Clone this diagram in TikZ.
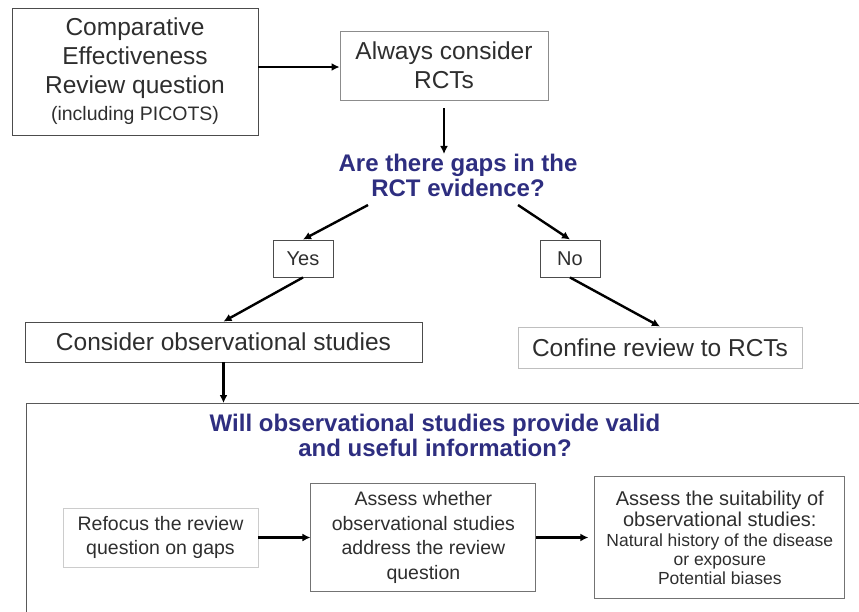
\documentclass[tikz,border=0pt]{standalone}
\usepackage{fontspec}
\setmainfont{Liberation Sans}
\usetikzlibrary{positioning,arrows.meta}
\definecolor{qblue}{RGB}{46,46,128}
\colorlet{ink}{black!82}
\tikzset{
    arr/.style={->, line width=2.4pt, black},
    box/.style={draw=black!70, line width=0.9pt, align=center, text=ink, inner sep=2pt,
        font=\fontsize{24.5}{29}\selectfont},
    choice/.style={box, minimum width=60pt, minimum height=37pt, font=\fontsize{20}{24}\selectfont},
    ask/.style={align=center, text=qblue, inner sep=0pt, font=\fontsize{24}{25}\selectfont\bfseries},
    small box/.style={box, draw=black!55, font=\fontsize{19.5}{24.5}\selectfont},
    frame/.style={draw=black!65, line width=1.2pt}
}

\begin{document}
\begin{tikzpicture}[x=1pt,y=-1pt,>={Latex[length=8pt,width=8pt]}]
    \useasboundingbox (0,0) rectangle (859,611);
    \begin{scope}
        \clip (0,0) rectangle (859,611);
        \node[frame, anchor=north west, minimum width=860pt, minimum height=240pt] (info) at (26,403) {};
    \end{scope}

    \node[box, minimum width=246pt, minimum height=127pt] (question) at (135,71.5)
        {Comparative\\Effectiveness\\Review question\\[-2pt]{\fontsize{19.5}{24}\selectfont(including PICOTS)}};
    \node[box, draw=black!45, minimum width=208pt, minimum height=69pt] (rcts) at (444,65.5) {Always consider\\RCTs};
    \node[ask] (gaps) at (458,175.5) {Are there gaps in the\\RCT evidence?};
    \node[choice] (yes) at (303,258.5) {Yes};
    \node[choice] (no) at (570,258.5) {No};
    \node[box, minimum width=397pt, minimum height=40pt] (observ) at (223.5,342) {Consider observational studies};
    \node[box, draw=black!25, minimum width=284pt, minimum height=41pt] (confine) at (660,347.5) {Confine review to RCTs};

    \node[ask] (valid) at (435,435) {Will observational studies provide valid\\and useful information?};
    \node[small box, draw=black!20, minimum width=195pt, minimum height=59pt] (refocus) at (160.5,537.5)
        {Refocus the review\\question on gaps};
    \node[small box, minimum width=225pt, minimum height=108pt, right=52pt of refocus] (assess)
        {Assess whether\\observational studies\\address the review\\question};
    \node[small box, minimum width=250pt, minimum height=122pt, right=58pt of assess, font=\fontsize{17.5}{19}\selectfont] (suit)
        {{\fontsize{20}{23}\selectfont Assess the suitability of}\\[2pt]{\fontsize{20}{23}\selectfont observational studies:}\\[1pt]
         Natural history of the disease\\or exposure\\Potential biases};

    \draw[arr] ([yshift=4.5pt]question.east) -- ([yshift=-1.5pt]rcts.west);
    \draw[arr, shorten <=8pt] (rcts.south) -- (rcts.south |- gaps.north);
    \draw[arr] ([xshift=-90pt,yshift=-8pt]gaps.south) -- (yes.north);
    \draw[arr] ([xshift=60pt,yshift=-8pt]gaps.south) -- (no.north);
    \draw[arr] (yes.south) -- (observ.north);
    \draw[arr] (no.south) -- (confine.north);
    \draw[arr] (observ.south) -- (observ.south |- info.north);
    \draw[arr] (refocus.east) -- (assess.west);
    \draw[arr, shorten >=6pt] (assess.east) -- (suit.west);
\end{tikzpicture}
\end{document}
